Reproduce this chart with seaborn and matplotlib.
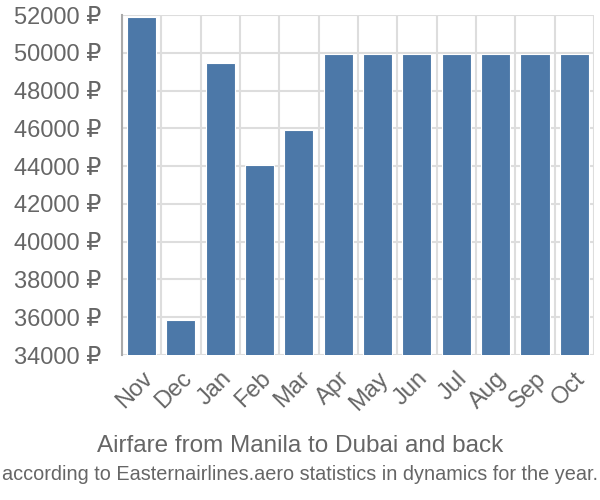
import matplotlib
matplotlib.use("Agg")
import matplotlib.pyplot as plt
import seaborn as sns
import pandas as pd
import numpy as np

# ==========================================
# DATA
# ==========================================
months = ["Nov", "Dec", "Jan", "Feb", "Mar", "Apr", "May", "Jun", "Jul", "Aug", "Sep", "Oct"]
prices = [51900, 35850, 49450, 44050, 45900, 49950, 49950, 49950, 49950, 49950, 49950, 49950]
yticks = list(range(34000, 52001, 2000))

df = pd.DataFrame({"month": months, "price": prices})

# ==========================================
# STYLE
# ==========================================
sns.set_style("white")
plt.rcParams["font.family"] = ["Liberation Sans", "DejaVu Sans"]
text_color = "#666666"
grid_color = "#dddddd"

fig = plt.figure(figsize=(6, 5), dpi=100)
ax = fig.add_axes([0.203, 0.29, 0.787, 0.68])

sns.barplot(data=df, x="month", y="price", color="#4c78a8", saturation=1,
            width=0.74, edgecolor="white", linewidth=0.8, ax=ax, zorder=3)

ax.set_ylim(yticks[0], yticks[-1])
ax.set_xlim(-0.5, len(months) - 0.5)
ax.set_yticks(yticks)
ax.set_yticklabels([f"{v} ₽" for v in yticks])

# category boundaries as minor ticks + vertical grid
ax.set_xticks(np.arange(-0.5, len(months), 1.0), minor=True)
ax.tick_params(axis="x", which="minor", length=14, color=grid_color, width=1.5)
ax.tick_params(axis="x", which="major", length=0, pad=9)
ax.tick_params(axis="y", length=14, color=grid_color, width=1.5, pad=1)
ax.grid(axis="x", which="minor", color=grid_color, linewidth=1.5, zorder=0)
ax.grid(axis="y", which="major", color=grid_color, linewidth=1.5, zorder=0)
ax.set_axisbelow(True)

for lbl in ax.get_xticklabels():
    lbl.set_rotation(45)
    lbl.set_ha("right")
    lbl.set_va("top")
    lbl.set_rotation_mode("anchor")
ax.tick_params(axis="both", labelsize=17, labelcolor=text_color)

for s in ["top", "right", "bottom"]:
    ax.spines[s].set_visible(False)
ax.spines["left"].set_color("#aaaaaa")
ax.spines["left"].set_linewidth(1.5)
ax.set_xlabel("")
ax.set_ylabel("")

fig.text(0.5, 0.108, "Airfare from Manila to Dubai and back", ha="center", va="center",
         fontsize=17.5, color=text_color)
fig.text(0.5, 0.052, "according to Easternairlines.aero statistics in dynamics for the year.",
         ha="center", va="center", fontsize=14.3, color=text_color)

fig.savefig("out.png", dpi=100)
